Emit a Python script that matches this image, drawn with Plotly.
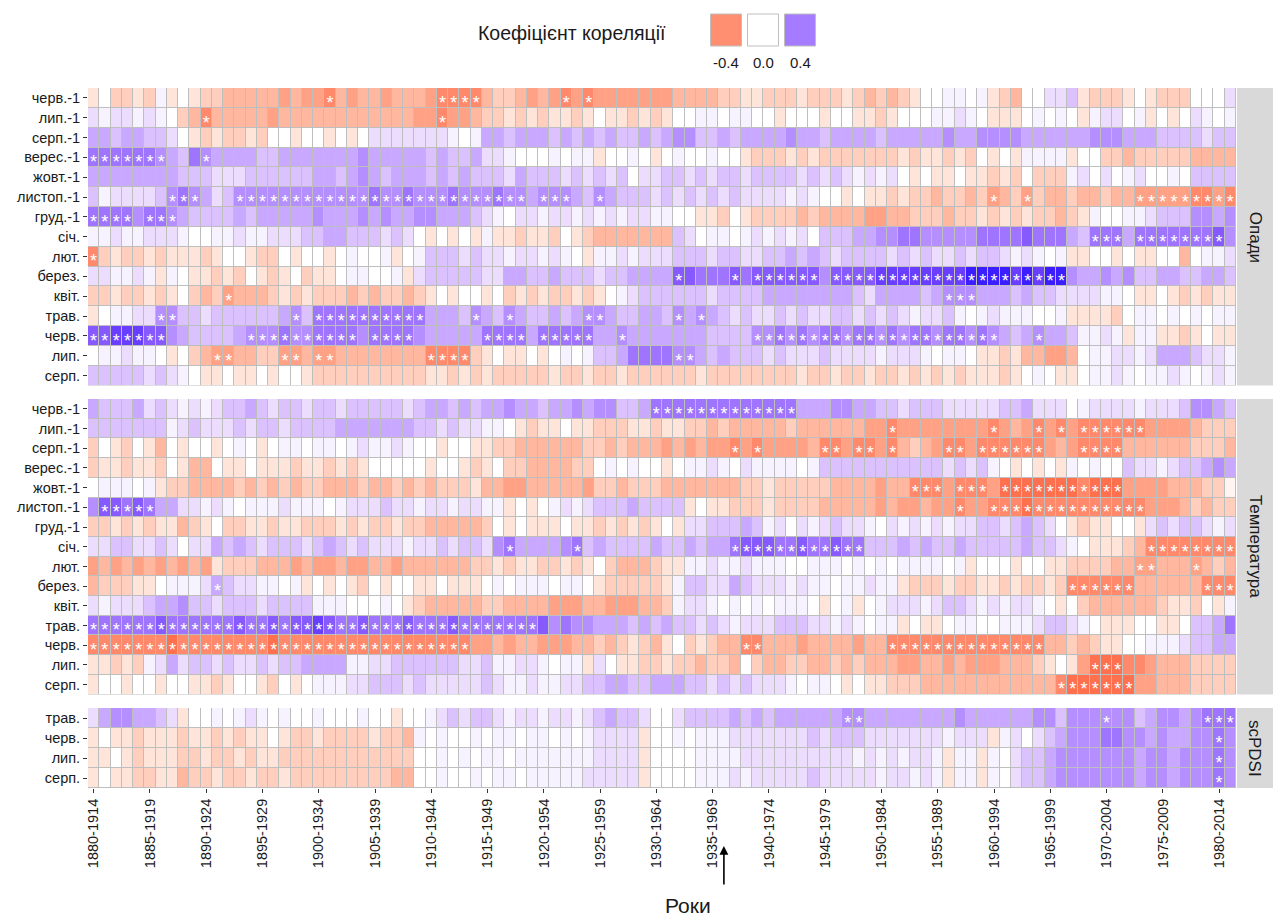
import plotly.graph_objects as go

# ---------------------------------------------------------------------------
# Data: moving 35-year window correlations, coded per row (one char per window)
# Code -> correlation coefficient
LEVELS = {
    "A": -0.60, "B": -0.50, "C": -0.42, "D": -0.34, "E": -0.26, "F": -0.18,
    "G": -0.10, "H": -0.04, "0": 0.00, "1": 0.04, "2": 0.10, "3": 0.18,
    "4": 0.26, "5": 0.34, "6": 0.42, "7": 0.50, "8": 0.58, "9": 0.66,
}

TICK_LABELS = [
    "1880-1914", "1885-1919", "1890-1924", "1895-1929", "1900-1934",
    "1905-1939", "1910-1944", "1915-1949", "1920-1954", "1925-1959",
    "1930-1964", "1935-1969", "1940-1974", "1945-1979", "1950-1984",
    "1955-1989", "1960-1994", "1965-1999", "1970-2004", "1975-2009",
    "1980-2014",
]

MONTHS_FULL = ["черв.-1", "лип.-1", "серп.-1", "верес.-1", "жовт.-1",
               "листоп.-1", "груд.-1", "січ.", "лют.", "берез.", "квіт.",
               "трав.", "черв.", "лип.", "серп."]
MONTHS_PDSI = ["трав.", "черв.", "лип.", "серп."]

PRECIP = [
    "G0FFGF1G0G FFEEEEEDED DCEDEEDEEE DCCCCEFFED EDCDCDDDDD DDEEEEFFGG FFFGFFFGFE FEFG001101 GFE00223GF FFG0GFFF00 02",
    "21221210FE CEEEEEDEEE EEEEEEEEED DCDDEFFGFG FGGFG0GGFG FG00110110 0G000G00GG FG00011210 GGG01010G1 2201G0G021 01",
    "443443320G FGFFGF00G0 0G0G022222 2210144344 4343434334 3455334344 4454434444 3444445445 5554444445 5544433332 33",
    "6666665436 5444433444 4444544444 3433422100 01011G0010 G0100100GF FFGFGFFFFF FFGFGGFGF0 G0G1111G00 FFEFFFFFEE EE",
    "4444444433 3222333333 4434543444 3434333243 3323232302 2332323323 3332323212 120G0GG0GG FGF0FFF120 2012001033 33",
    "3122223565 4235555555 5555565565 5565556554 5554354333 2323232322 2212100G0G GFGFFEFFEF DEFDFEEFEE FEEDDDDDCC DC",
    "6666566543 3334344444 5444545445 5444321022 1221212122 1100GGF0GF FFFEFEEEED DEEFFFEFFG FGFGFFEFG1 0011233355 45",
    "1121122210 0112112223 3443332320 G0G0G1GGFG GF0GFEEEEE EE32011012 1212033344 5566555556 6667666436 6646666666 75",
    "CFGFFGFGGG FG00GFF0G0 0G01001G01 3332322122 1210G11212 2233323322 3343432333 3232322323 3212101GG0 0G0GG00E01 12",
    "221121G10G GFGF0GFG0F GG011001G2 3333322443 3433323344 4477666767 7777757777 8888888899 9989899544 5453344334 43",
    "FFGFFGFG0F EFDEEEFGFG FFFEFEFFEF G0G00G0FGF GFFGFG0123 3333323333 4444444432 4444345554 4434332222 110GG0GFGF GG",
    "G011225533 2333333453 6666666666 4443543543 3434554334 4354543232 2323223323 2321223101 2111001GGG GF01101010 11",
    "7788877543 3334555655 6666566665 4444466664 6666644544 4444433335 5656566566 5656656656 5434544311 21G11GGFG0 GG",
    "0112110G0F EDDEEFFDDE DDEEEEEEEE CCCCFG0GG0 G010133466 6655434333 2322232222 122210110G GFGEEDDE01 1221244432 21",
    "3333323210 GG0GG0G00G FFFFFFFFFF GGFGFGFFFF FGFFGFFGFF FFFFGFFFFF FFFGFFGFFG FFGFGFGFGG GFG010GG01 1210112101 21",
]

TEMP = [
    "4333423212 1233432332 3323333323 4434344544 3445455334 6666666666 6664445544 3323332222 2334222012 2221222355 43",
    "3333333123 2223233233 3344444443 32322110GF GG0GGFFFGG FGGFFEFEEE EEFEEEEEED DCDDDDDDDD CDEDCDCDCC CCCCDDDDEF FF",
    "F0GF0GE0G0 0G010G0110 1101211210 0G00GGFFEE EEEEFFEFEE EDEDEDDCDC DDDDECCDCC DCEFEDCCDC CCCCCDEDCC CCEEEEEEFF FE",
    "FGGFGGF0GE E0GG0GGGFG GFGFG00000 G00GFG0FFE EEEFF01010 0G01121021 1110133333 3333332323 10G0G0G101 0032212334 54",
    "011101GFFE EEEFEFEFEF FEEEFEEFEF EFFFGEEDDE EEEEDFFEFF FEEEEEEEFF GFFFFFEEEE DEECCCDCCC DBBBBBBBCB BBDDDDEEEF FH",
    "5776764422 1210111211 1012223221 2212211G0G 0121233343 333G0GGFFF GFFFFEEEEE DEDDEDDCDD CCCBCCCCCC CCCCDDDEFE FF",
    "FFGFGFGGEF G0FFGGFGGF FFGFGFFGFF EEEEEF0G0G GG0GGFGFGF G0G2233343 1202123221 0212121223 3234320GFG G00G232332 12",
    "2233223202 2434323332 3432322212 2323325644 4456343333 4334344677 7667667663 3343433433 333433210G GGFECCCCCC CC",
    "DEDEDEDEDE DGFFFEEEDE DDEDDEEDEE EEEEFFGFGG FFGFG0FEEE FGG1121121 1100111010 10111101G0 00G00GGFFF FEEDDEEEDE FE",
    "EFFFGG0111 243221101G 0G0GF0G00G G0GGG01011 10110GFFFF FG13322432 2212110112 11GFFFGFFG GFGFFGFCCC CCCEEEEEEC CC",
    "2122234453 3233323333 11100010GF EEEEEFFEEE EDDDEEDDDE EF12210101 01110G01G0 1222123321 212210G0FE EEEEEFGGF0 G1",
    "6666667666 6667667677 8766766676 6676666666 7565544434 3433232122 2333221210 11G0GG0110 0111233210 GGG00GG033 46",
    "CCCCCCCBCC CCCCCCBCCC CCCCCCCCCC CCCCDDEDEE DDDEEFEFGF EG0FGFEECC EEEDEEEEDE ECCCCCCCCC CCCCCEEFEF GG00111233 44",
    "GGFGF12423 3232232334 4441122333 3332231122 1011G20GGF FGFFEFFE0F EEFFEEFEFE EEDDEEDEDD DEEEFG0GDB BBCCDEEEFF FF",
    "G00G00G00G GFG00GF0G0 1112233323 2222232112 1122334433 4443323232 2210110G0G GFFFEEEEEE EEEEEECBBB BBBDDEEEFF FF",
]

PDSI = [
    "24554432G0 0101210100 1000100G00 1232332122 1221234332 0023333434 3444444554 4444444544 4444553555 5553455456 66",
    "G0GGFGGGFG GFGFGG0GFF GFFFFGFFE1 0100101101 101012222G 0010111222 2222323332 2222221222 G120234555 6655454455 65",
    "GG0GFGGGFF GFFGFGGFFF FFFFFFFFF0 0101011011 111112222G 0000111122 2222222212 121221G11G 1023345555 5554554555 65",
    "G0GGFFGGEF FGFFGFFGFF FFFFFFFEE0 0100101101 111122222G 0000111212 2222322222 122121G11G 1023345555 5554554555 65",
]

# Windows with significant correlation (marked with *)
STARS_PRECIP = [
    "21 31-34 42 44", "10 31", "", "0-6 10", "",
    "7-9 13-38 40-42 45 80 83 93-101", "0-3 5-7", "89-91 93-100", "0",
    "52 57 59-64 66-86", "12 76-78", "6-7 18 20-29 34 37 44-45 52 54",
    "0-6 14-23 25-28 35-38 40-44 47 59-80 84",
    "11-12 17-18 20-21 30-33 52-53", "",
]
STARS_TEMP = [
    "50-62", "71 80 84 86 88-93",
    "57 59 65-66 68-69 71 76-77 79-84 88-91", "",
    "73-75 77-79 81-91", "1-5 77 80-93", "", "37 43 57-68 94-101",
    "93-94 98", "11 87-92 99-101", "", "0-39", "0-33 58-59 71-84",
    "89-91", "86-92",
]
STARS_PDSI = ["67-68 90 99-101", "100", "100", "100"]

PANEL_TITLES = ["Опади", "Температура", "scPDSI"]
LEGEND_VALUES = [-0.4, 0.0, 0.4]
LEGEND_LABELS = ["-0.4", "0.0", "0.4"]

# ---------------------------------------------------------------------------
# Diverging colour scale interpolated in CIE Lab (red - white - blue)
LIMIT = 0.7


def _lin(c):
    c = c / 255.0
    return c / 12.92 if c <= 0.04045 else ((c + 0.055) / 1.055) ** 2.4


def _gam(c):
    c = min(max(c, 0.0), 1.0)
    return 12.92 * c if c <= 0.0031308 else 1.055 * c ** (1 / 2.4) - 0.055


def rgb_to_lab(rgb):
    r, g, b = (_lin(v) for v in rgb)
    x = 0.4124564 * r + 0.3575761 * g + 0.1804375 * b
    y = 0.2126729 * r + 0.7151522 * g + 0.0721750 * b
    z = 0.0193339 * r + 0.1191920 * g + 0.9503041 * b

    def f(t):
        return t ** (1 / 3) if t > 216 / 24389 else (24389 / 27 * t + 16) / 116

    fx, fy, fz = f(x / 0.95047), f(y), f(z / 1.08883)
    return (116 * fy - 16, 500 * (fx - fy), 200 * (fy - fz))


def lab_to_rgb(lab):
    L, a, bb = lab
    fy = (L + 16) / 116
    fx = fy + a / 500
    fz = fy - bb / 200

    def finv(t):
        return t ** 3 if t ** 3 > 216 / 24389 else (116 * t - 16) / (24389 / 27)

    x, y, z = 0.95047 * finv(fx), finv(fy), 1.08883 * finv(fz)
    r = 3.2404542 * x - 1.5371385 * y - 0.4985314 * z
    g = -0.9692660 * x + 1.8760108 * y + 0.0415560 * z
    b = 0.0556434 * x - 0.2040259 * y + 1.0572252 * z
    return tuple(int(round(255 * _gam(v))) for v in (r, g, b))


LAB_LOW = rgb_to_lab((255, 0, 0))
LAB_MID = rgb_to_lab((255, 255, 255))
LAB_HIGH = rgb_to_lab((0, 0, 255))


def colour_for(v):
    frac = min(abs(v) / LIMIT, 1.0)
    end = LAB_LOW if v < 0 else LAB_HIGH
    lab = tuple(m + frac * (e - m) for m, e in zip(LAB_MID, end))
    return "rgb(%d,%d,%d)" % lab_to_rgb(lab)


N_STOPS = 57
COLORSCALE = [[i / (N_STOPS - 1), colour_for(-LIMIT + 2 * LIMIT * i / (N_STOPS - 1))]
              for i in range(N_STOPS)]


def decode(rows):
    out = []
    for row in rows:
        codes = row.replace(" ", "")
        out.append([LEVELS[c] for c in codes])
    return out


def parse_cols(spec):
    cols = []
    for tok in spec.split():
        if "-" in tok:
            a, b = tok.split("-")
            cols.extend(range(int(a), int(b) + 1))
        else:
            cols.append(int(tok))
    return cols


# ---------------------------------------------------------------------------
W, H = 1274, 918
ML, MR, MT, MB = 88, 38, 88, 130
PW, PH = W - ML - MR, H - MT - MB

def px_x(px):
    return (px - ML) / PW


def px_y(py):
    return (H - MB - py) / PH


FONT = "Liberation Sans, Arial, Helvetica, sans-serif"
TEXT_COL = "#1a1a1a"
TILE_BORDER = "#bebebe"

panels = [
    (PRECIP, STARS_PRECIP, MONTHS_FULL, "y", (88, 385.5)),
    (TEMP, STARS_TEMP, MONTHS_FULL, "y2", (399, 694.5)),
    (PDSI, STARS_PDSI, MONTHS_PDSI, "y3", (708, 788)),
]

n_windows = len(PRECIP[0].replace(" ", ""))
fig = go.Figure()

for rows, stars, labels, yref, _ in panels:
    z = decode(rows)
    fig.add_trace(go.Heatmap(
        z=z, x=list(range(n_windows)), y=list(range(len(labels))),
        colorscale=COLORSCALE, zmin=-LIMIT, zmax=LIMIT, showscale=False,
        xgap=1, ygap=1, xaxis="x", yaxis=yref, hoverinfo="skip",
    ))
    sx, sy = [], []
    for r, spec in enumerate(stars):
        for c in parse_cols(spec):
            sx.append(c)
            sy.append(r + 0.32)
    fig.add_trace(go.Scatter(
        x=sx, y=sy, mode="text", text=["*"] * len(sx),
        textfont=dict(color="white", size=18, family=FONT),
        xaxis="x", yaxis=yref, hoverinfo="skip", showlegend=False,
    ))

layout = dict(
    width=W, height=H,
    margin=dict(l=ML, r=MR, t=MT, b=MB),
    paper_bgcolor="white", plot_bgcolor=TILE_BORDER,
    showlegend=False,
    font=dict(family=FONT, color=TEXT_COL, size=14),
    xaxis=dict(
        domain=[0, 1], range=[-0.5, n_windows - 0.5], anchor="y3",
        tickmode="array", tickvals=[5 * i for i in range(len(TICK_LABELS))],
        ticktext=TICK_LABELS, tickangle=-90, ticks="outside", ticklen=4,
        tickcolor="#333333", tickfont=dict(size=14.5, color=TEXT_COL),
        showgrid=False, zeroline=False, showline=False,
    ),
)

shapes, annotations = [], []
strip_x0, strip_x1 = px_x(1237), px_x(1273)
for i, (rows, stars, labels, yref, (top, bot)) in enumerate(panels):
    key = "yaxis" if yref == "y" else "yaxis" + yref[1:]
    d0, d1 = px_y(bot), px_y(top)
    layout[key] = dict(
        domain=[d0, d1], range=[len(labels) - 0.5, -0.5], anchor="x",
        tickmode="array", tickvals=list(range(len(labels))), ticktext=labels,
        ticks="outside", ticklen=4, tickcolor="#333333",
        tickfont=dict(size=14.5, color=TEXT_COL),
        showgrid=False, zeroline=False, showline=False,
    )
    shapes.append(dict(type="rect", xref="paper", yref="paper",
                       x0=strip_x0, x1=strip_x1, y0=d0, y1=d1,
                       fillcolor="#d9d9d9", line=dict(width=0), layer="below"))
    annotations.append(dict(
        x=(strip_x0 + strip_x1) / 2, y=(d0 + d1) / 2, xref="paper", yref="paper",
        text=PANEL_TITLES[i], showarrow=False, textangle=90,
        font=dict(size=17, color=TEXT_COL), xanchor="center", yanchor="middle",
    ))

# colour legend on top
annotations.append(dict(
    x=px_x(668), y=px_y(33), xref="paper", yref="paper",
    text="Коефіцієнт кореляції", showarrow=False, xanchor="right",
    yanchor="middle", font=dict(size=19.5, color=TEXT_COL),
))
for cx, v, lab in zip([726, 763, 800], LEGEND_VALUES, LEGEND_LABELS):
    shapes.append(dict(type="rect", xref="paper", yref="paper",
                       x0=px_x(cx - 15.5), x1=px_x(cx + 15.5),
                       y0=px_y(46), y1=px_y(14),
                       fillcolor=colour_for(v), line=dict(color=TILE_BORDER, width=1)))
    annotations.append(dict(
        x=px_x(cx), y=px_y(62), xref="paper", yref="paper", text=lab,
        showarrow=False, xanchor="center", yanchor="middle",
        font=dict(size=15, color=TEXT_COL),
    ))

# axis title and marker arrow
annotations.append(dict(
    x=px_x(688), y=px_y(905), xref="paper", yref="paper", text="Роки",
    showarrow=False, xanchor="center", yanchor="middle",
    font=dict(size=21, color=TEXT_COL),
))
annotations.append(dict(
    x=56, y=px_y(846), xref="x", yref="paper", text="", showarrow=True,
    ax=0, ay=40, arrowhead=2, arrowsize=1.1, arrowwidth=1.6, arrowcolor="black",
))

layout["shapes"] = shapes
layout["annotations"] = annotations
fig.update_layout(**layout)

fig.write_html("out.html")
